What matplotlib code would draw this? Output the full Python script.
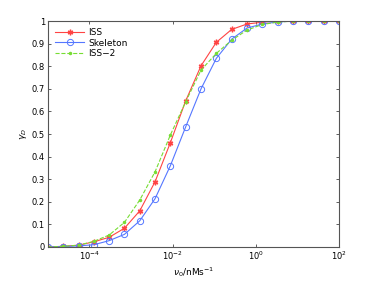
import numpy as np
import matplotlib.pyplot as plt

nu0 = np.logspace(-5, 2, 20)

iss = [0, 0.003, 0.008, 0.023, 0.043, 0.083, 0.16, 0.289, 0.462, 0.647,
       0.802, 0.906, 0.963, 0.987, 0.995, 1, 1, 1, 1, 1]
skeleton = [0, 0.002, 0.005, 0.01, 0.028, 0.056, 0.116, 0.214, 0.36, 0.532,
            0.70, 0.835, 0.92, 0.969, 0.987, 0.996, 1, 1, 1, 1]
iss2 = [0, 0.003, 0.008, 0.025, 0.053, 0.109, 0.208, 0.333, 0.496, 0.643,
        0.783, 0.857, 0.915, 0.96, 0.985, 0.995, 1, 1, 1, 1]

plt.rcParams['font.family'] = 'DejaVu Sans'
fig = plt.figure(figsize=(3.74, 2.81), dpi=100)
ax = fig.add_axes([0.128, 0.121, 0.778, 0.804])

ax.semilogx(nu0, iss, '-', marker=(6, 2, 0), color='#ff4444', lw=0.8, ms=4,
            mew=1.0, label='ISS')
ax.semilogx(nu0, skeleton, '-o', color='#5577ff', lw=0.8, ms=4.5,
            mfc='none', mew=0.7, label='Skeleton')
ax.semilogx(nu0, iss2, '--.', color='#77dd33', lw=0.8, ms=3, label='ISS\u22122')

ax.set_xlim(1e-5, 1e2)
ax.set_ylim(0, 1)
ax.set_xticks([1e-4, 1e-2, 1e0, 1e2])
ax.minorticks_off()
ax.set_yticks(np.arange(0, 1.01, 0.1))
ax.set_yticklabels(['0', '0.1', '0.2', '0.3', '0.4', '0.5', '0.6', '0.7',
                    '0.8', '0.9', '1'])
ax.tick_params(direction='in', top=True, right=True, labelsize=6,
               length=2.5, width=0.6, color='#444444', pad=2)
for s in ax.spines.values():
    s.set_color('#555555')
    s.set_linewidth(0.8)

ax.set_xlabel(r'$\nu_0$/nMs$^{-1}$', fontsize=6.5, labelpad=2)
ax.set_ylabel(r'$\gamma_D$', fontsize=6.5, labelpad=2)

ax.legend(loc='upper left', frameon=False, fontsize=6.5, handlelength=3.2,
          labelspacing=0.15, borderaxespad=0.4, handletextpad=0.5)

fig.savefig('out.png', dpi=100)
